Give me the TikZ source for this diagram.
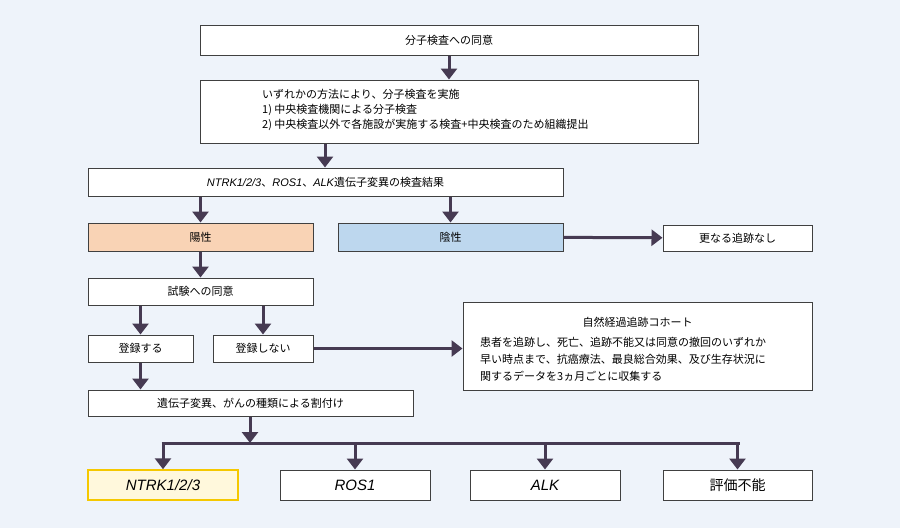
\documentclass[tikz,border=0pt]{standalone}
\usepackage{fontspec}
\setmainfont{Noto Sans CJK JP}
\newfontfamily\latf{Liberation Sans}
\usetikzlibrary{arrows.meta}
\definecolor{bg}{HTML}{EEF3FA}
\definecolor{arr}{HTML}{463A52}
\definecolor{pos}{HTML}{F9D3B5}
\definecolor{neg}{HTML}{BDD7EE}
\definecolor{ylw}{HTML}{F5C800}
\definecolor{ylwf}{HTML}{FFF8DC}
\newcommand{\gi}[1]{{\latf\itshape #1}}
\begin{document}
\begin{tikzpicture}[x=1pt,y=-1pt,
 box/.style={draw=black!75,line width=1pt,fill=white},
 lbl/.style={font=\fontsize{11}{15}\selectfont,text=black},
 big/.style={font=\fontsize{15}{17}\selectfont},
 ar/.style={draw=arr,line width=3pt,-{Triangle[length=11pt,width=16pt]}},
 ln/.style={draw=arr,line width=3pt}]
\fill[bg] (0,0) rectangle (900,528);
\useasboundingbox (0,0) rectangle (900,528);
% boxes
\node[box,minimum width=498,minimum height=30,lbl] (a) at (449,40) {分子検査への同意};
\node[box,minimum width=498,minimum height=63] (b) at (449,111.5) {};
\node[lbl,anchor=north west,align=left,inner sep=0] (bt) at (262,89) {いずれかの方法により、分子検査を実施\\1)\ 中央検査機関による分子検査\\2)\ 中央検査以外で各施設が実施する検査+中央検査のため組織提出};
\node[box,minimum width=475,minimum height=28,lbl] (c) at (325.5,182) {\gi{NTRK1/2/3}、\gi{ROS1}、\gi{ALK}遺伝子変異の検査結果};
\node[box,fill=pos,minimum width=225,minimum height=28,lbl] (p) at (200.5,237) {陽性};
\node[box,fill=neg,minimum width=225,minimum height=28,lbl] (n) at (450.5,237) {陰性};
\node[box,minimum width=149,minimum height=26,lbl] (nf) at (737.5,238) {更なる追跡なし};
\node[box,minimum width=225,minimum height=27,lbl] (t) at (200.5,291.5) {試験への同意};
\node[box,minimum width=105,minimum height=27,lbl] (r) at (140.5,348.5) {登録する};
\node[box,minimum width=100,minimum height=27,lbl] (nr) at (263,348.5) {登録しない};
\node[box,minimum width=349,minimum height=88] (co) at (637.5,346) {};
\node[lbl] (cot) at (637.5,322) {自然経過追跡コホート};
\node[lbl,font=\fontsize{11}{17}\selectfont,anchor=north west,align=left,inner sep=0] (cob) at (480,337) {患者を追跡し、死亡、追跡不能又は同意の撤回のいずれか\\早い時点まで、抗癌療法、最良総合効果、及び生存状況に\\関するデータを3ヵ月ごとに収集する};
\node[box,minimum width=325,minimum height=26,lbl] (w) at (250.5,403) {遺伝子変異、がんの種類による割付け};
\node[box,draw=ylw,fill=ylwf,line width=1.5pt,minimum width=150,minimum height=30,big] (e1) at (163,485) {\gi{NTRK1/2/3}};
\node[box,minimum width=150,minimum height=30,big] (e2) at (355,485) {\gi{ROS1}};
\node[box,minimum width=150,minimum height=30,big] (e3) at (545,485) {\gi{ALK}};
\node[box,minimum width=149,minimum height=30,font=\fontsize{14}{16}\selectfont] (e4) at (737.5,485) {評価不能};
\coordinate (bus) at (250,443);
\coordinate (bl) at (161.5,443);
\coordinate (br) at (739.5,443);
% arrows
\draw[ar] (a) -- (b);
\draw[ar] (b.south -| 325,0) -- (c.north -| 325,0);
\draw[ar] (c.south -| p) -- (p);
\draw[ar] (c.south -| n) -- (n);
\draw[ar] (n) -- (nf);
\draw[ar] (p) -- (t);
\draw[ar] (t.south -| r) -- (r.north -| r);
\draw[ar] (t.south -| nr) -- (nr);
\draw[ar] (nr) -- (co.west |- nr);
\draw[ar] (r) -- (w.north -| r);
\draw[ar] (bus |- w.south) -- (bus);
\draw[ln] (bl) -- (br);
\draw[ar] (e1 |- bus) -- (e1);
\draw[ar] (e2 |- bus) -- (e2);
\draw[ar] (e3 |- bus) -- (e3);
\draw[ar] (e4 |- bus) -- (e4);
\end{tikzpicture}
\end{document}
